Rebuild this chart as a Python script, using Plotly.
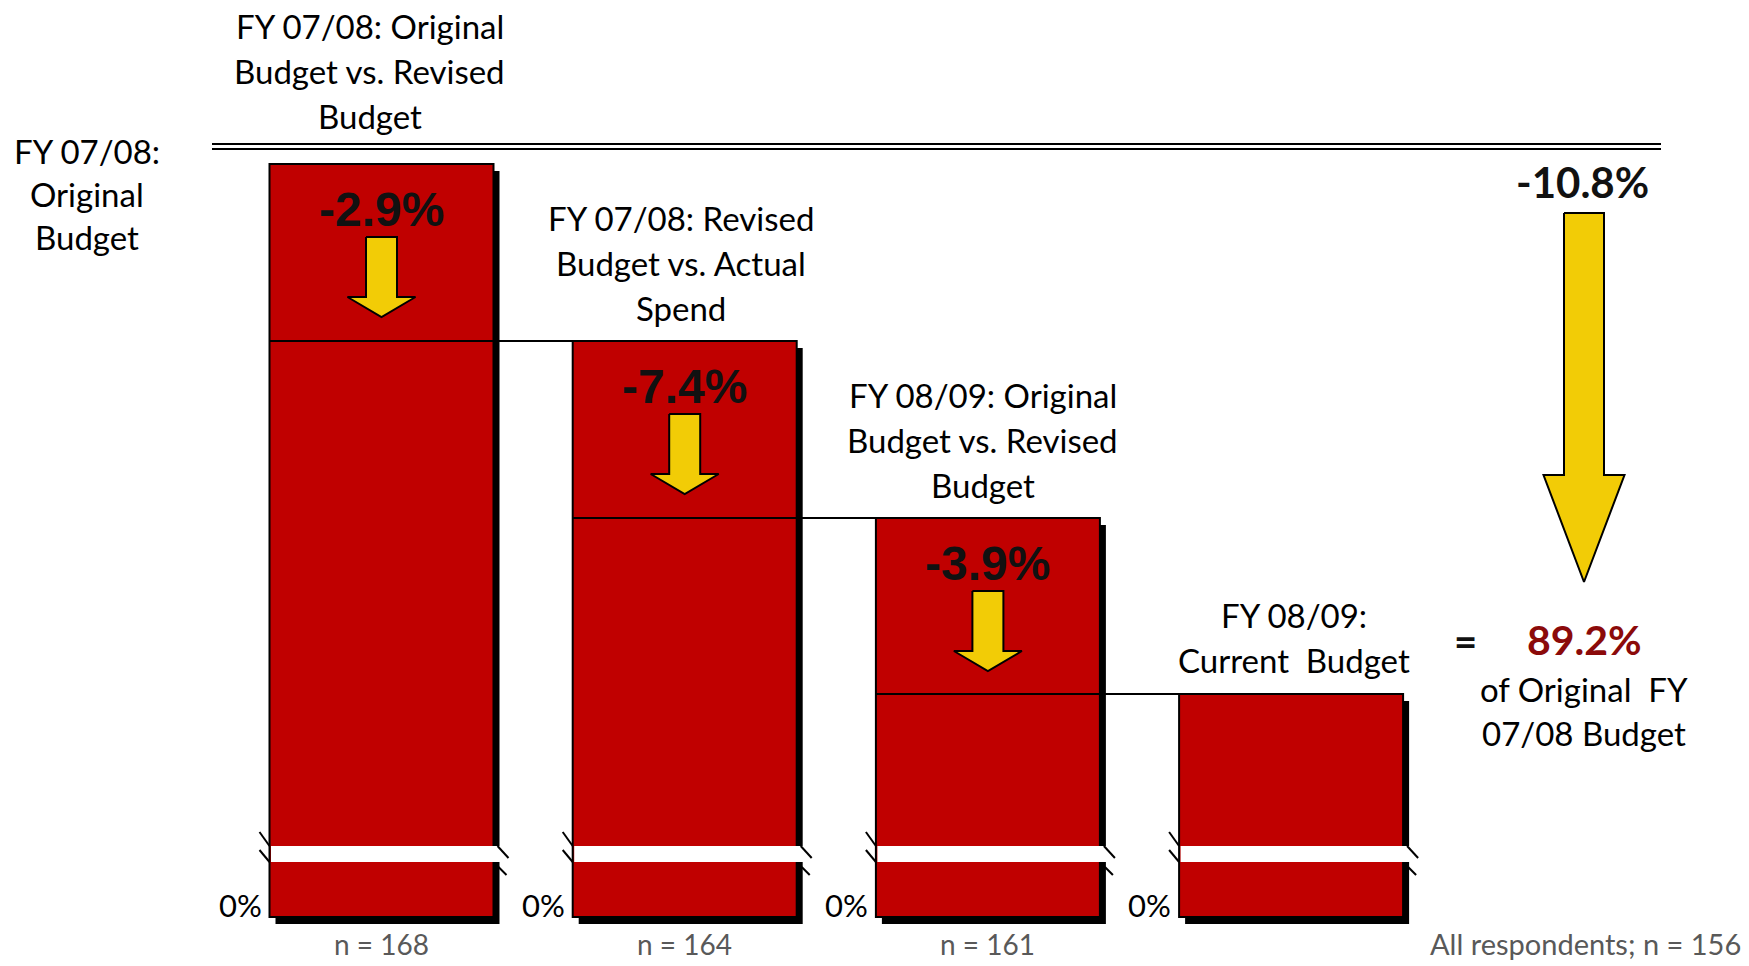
import plotly.graph_objects as go

# ---------------- data ----------------
categories = ["FY 07/08: Original Budget", "FY 07/08: Revised Budget",
              "FY 08/09: Original Budget", "FY 08/09: Current Budget"]
bar_labels = [
    ["FY 07/08: Original", "Budget vs. Revised", "Budget"],
    ["FY 07/08: Revised", "Budget vs. Actual", "Spend"],
    ["FY 08/09: Original", "Budget vs. Revised", "Budget"],
    ["FY 08/09:", "Current  Budget"],
]
# drawn (schematic) bar heights above the 0% base; the axis is broken
bar_heights = [753, 576, 399, 223]
step_changes = ["-2.9%", "-7.4%", "-3.9%"]
sample_sizes = ["n = 168", "n = 164", "n = 161"]
total_change = "-10.8%"
remaining_share = "89.2%"
remaining_note = ["of Original  FY", "07/08 Budget"]
base_label = ["FY 07/08:", "Original", "Budget"]
base_tick = "0%"
footnote = "All respondents; n = 156"

# ---------------- layout / style ----------------
W, H = 1749, 966
X0, PXX = 381.5, 303.2          # pixel of x=0, pixels per x unit
Y0 = 917                        # pixel of y=0 (1 y unit = 1 px)


def dx(p):
    return p / PXX


def xat(p):
    return (p - X0) / PXX


def yat(p):
    return Y0 - p


RED = "#C00000"
YELLOW = "#F2CC06"
DARKRED = "#8B0A0A"
GRAY = "#595959"
LABEL_FONT = dict(family="Lato", size=33, color="black")
TICK_FONT = dict(family="Lato", size=31, color="black")
NOTE_FONT = dict(family="Lato", size=28, color=GRAY)
HALF = dx(112)
SHADOW_DX, SHADOW_DY = 6, 7
BAND_LO, BAND_HI = 55, 71
label_gap = [48, 33, 33, 34]
LINE_SP = 45

xs_idx = list(range(len(categories)))

fig = go.Figure()

# shadows
fig.add_trace(go.Bar(
    x=[i + dx(SHADOW_DX) for i in xs_idx], y=bar_heights, base=-SHADOW_DY,
    width=2 * HALF, marker=dict(color="black", line=dict(width=0)),
    hoverinfo="skip", showlegend=False))
# bars
fig.add_trace(go.Bar(
    x=xs_idx, y=bar_heights, width=2 * HALF,
    marker=dict(color=RED, line=dict(color="black", width=2)),
    hoverinfo="skip", showlegend=False))

# step connector lines
for i in range(len(bar_heights) - 1):
    fig.add_trace(go.Scatter(
        x=[i - HALF, i + 1 - HALF], y=[bar_heights[i + 1]] * 2,
        mode="lines", line=dict(color="black", width=2),
        hoverinfo="skip", showlegend=False))


def arrow(xc, top, head, tip, sw, hw):
    xs = [xc - sw, xc + sw, xc + sw, xc + hw, xc, xc - hw, xc - sw, xc - sw]
    ys = [top, top, head, head, tip, head, head, top]
    return xs, ys


# small arrows + step change labels
for i, ch in enumerate(step_changes):
    top = bar_heights[i]
    ax, ay = arrow(i, top - 73, top - 133, top - 153, dx(15.5), dx(34))
    fig.add_trace(go.Scatter(
        x=ax, y=ay, mode="lines", fill="toself", fillcolor=YELLOW,
        line=dict(color="black", width=2), hoverinfo="skip", showlegend=False))
    fig.add_annotation(x=i, y=top - 45, text=f"<b>{ch}</b>", showarrow=False,
                       font=dict(family="Liberation Sans", size=48, color="#111"),
                       xanchor="center", yanchor="middle")

# big total arrow
TOTAL_X = xat(1584)
ax, ay = arrow(TOTAL_X, yat(213), yat(475), yat(582), dx(20), dx(40.5))
fig.add_trace(go.Scatter(
    x=ax, y=ay, mode="lines", fill="toself", fillcolor=YELLOW,
    line=dict(color="black", width=2), hoverinfo="skip", showlegend=False))

shapes = []
# axis break bands and slashes
for i, h in enumerate(bar_heights):
    L, R = i - HALF, i + HALF
    shapes.append(dict(type="rect", xref="x", yref="y", x0=L + dx(1.5), x1=R + dx(9),
                       y0=BAND_LO, y1=BAND_HI, fillcolor="white", line=dict(width=0),
                       layer="above"))
    for (x0, y0, x1, y1) in [
        (L - dx(10), BAND_HI + 14, L, BAND_HI),
        (L - dx(10), BAND_HI - 4, L, BAND_LO),
        (R + dx(4), BAND_HI, R + dx(15), BAND_HI - 12),
        (R + dx(5), BAND_LO - 5, R + dx(13), BAND_LO - 13),
    ]:
        shapes.append(dict(type="line", xref="x", yref="y", x0=x0, y0=y0, x1=x1, y1=y1,
                           line=dict(color="black", width=2), layer="above"))

# top double line (100% reference)
for yy in (yat(144), yat(149)):
    shapes.append(dict(type="line", xref="x", yref="y", x0=xat(212), x1=xat(1661),
                       y0=yy, y1=yy, line=dict(color="black", width=2), layer="above"))

# bar labels
label_dx = [-12, -4, -5, 3]
for i, lines in enumerate(bar_labels):
    last = bar_heights[i] + label_gap[i]
    n = len(lines)
    for k, t in enumerate(lines):
        fig.add_annotation(x=i + dx(label_dx[i]), y=last + (n - 1 - k) * LINE_SP, text=t,
                           showarrow=False, font=LABEL_FONT,
                           xanchor="center", yanchor="middle")

# 0% ticks and n labels
for i in xs_idx:
    fig.add_annotation(x=i - HALF - dx(6), y=12, text=base_tick, showarrow=False,
                       font=TICK_FONT, xanchor="right", yanchor="middle")
for i, t in enumerate(sample_sizes):
    fig.add_annotation(x=i, y=yat(944), text=t, showarrow=False,
                       font=NOTE_FONT, xanchor="center", yanchor="middle")

# left label
for k, t in enumerate(base_label):
    fig.add_annotation(x=xat(87), y=yat(151 + 43 * k), text=t, showarrow=False,
                       font=LABEL_FONT, xanchor="center", yanchor="middle")

# right side
fig.add_annotation(x=TOTAL_X - dx(2), y=yat(182), text=f"<b>{total_change}</b>",
                   showarrow=False, font=dict(family="Lato", size=42, color="#111"),
                   xanchor="center", yanchor="middle")
fig.add_annotation(x=xat(1465), y=yat(641), text="<b>=</b>", showarrow=False,
                   font=dict(family="Lato", size=40, color="#111"),
                   xanchor="center", yanchor="middle")
fig.add_annotation(x=TOTAL_X, y=yat(639), text=f"<b>{remaining_share}</b>",
                   showarrow=False, font=dict(family="Lato", size=41, color=DARKRED),
                   xanchor="center", yanchor="middle")
for k, t in enumerate(remaining_note):
    fig.add_annotation(x=TOTAL_X, y=yat(689 + 44 * k), text=t, showarrow=False,
                       font=LABEL_FONT, xanchor="center", yanchor="middle")
fig.add_annotation(x=xat(1743), y=yat(943), text=footnote, showarrow=False,
                   font=dict(family="Lato", size=29, color=GRAY),
                   xanchor="right", yanchor="middle")

fig.update_layout(
    width=W, height=H, margin=dict(l=0, r=0, t=0, b=0),
    paper_bgcolor="white", plot_bgcolor="white",
    barmode="overlay", showlegend=False, shapes=shapes,
    xaxis=dict(range=[xat(0), xat(W)], visible=False, fixedrange=True),
    yaxis=dict(range=[yat(H), yat(0)], visible=False, fixedrange=True),
)

fig.write_html("out.html", config={"displayModeBar": False},
               post_script="document.body.style.margin='0';document.body.style.overflow='hidden';")
